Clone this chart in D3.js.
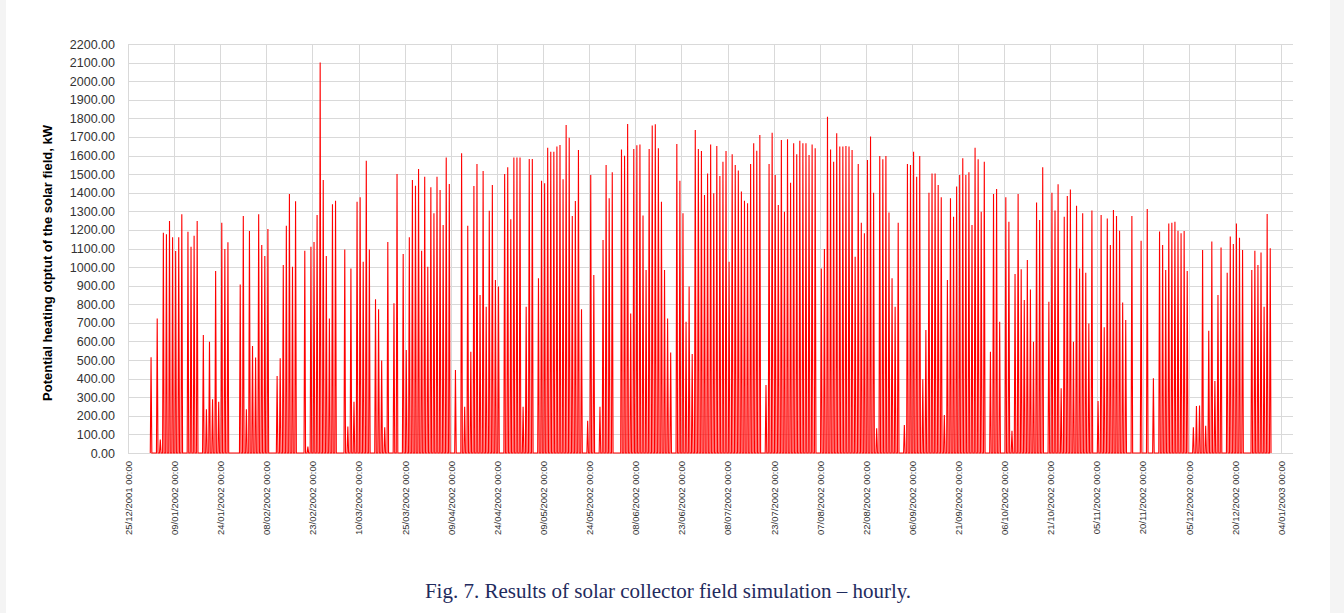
<!DOCTYPE html>
<html>
<head>
<meta charset="utf-8">
<script src="https://cdn.jsdelivr.net/npm/d3@7"></script>
<style>
	body { margin: 0; background: #f4f4f4; }
	svg { display: block; }
</style>
</head>
<body>
<svg id="chart" width="1344" height="613"></svg>
<script>
// daily peak of the hourly output, kW, 1 Jan 2002 .. 31 Dec 2002
var jan = [515,0,724,73,1185,1176,1248,1160,1087,1160,1284,0,1190,1110,1169,1248,0,635,235,599,289,979,276,1239,1097,1133,0,0,0,907,1275];
var feb = [235,1194,575,513,1284,1119,1060,1205,0,0,414,509,1011,1223,1393,1002,1354,0,0,1088,34,1110,1135,1280,2100,1468,1060,723];
var mar = [1338,1357,0,0,1095,142,993,276,1352,1375,1029,1572,1095,0,827,773,497,138,1135,0,805,1501,0,1070,554,1160,1468,1438,1528,1088,1486];
var apr = [1002,1429,1289,1486,1415,1226,1589,1447,0,446,0,1612,249,1223,545,1436,1555,850,1517,787,1303,1442,931,895,0,1501,1537,1257,1590,1590];
var may = [1590,249,787,1581,1581,0,940,1465,1451,1642,1621,1621,1648,1657,1472,1764,1696,1275,1355,1630,773,0,174,1495,957,0,249,1146,1549,1370,1510];
var jun = [0,0,1633,1599,1770,751,1635,1655,1660,1277,984,1635,1761,1768,1639,1352,984,724,540,0,1662,1465,1289,706,895,533,1737,1635,1624,1388];
var jul = [1504,1660,1397,1651,1490,1567,1624,1029,1607,1549,1519,1406,1357,1343,1554,1666,1626,1710,0,366,1554,1723,1495,1334,1684,1298,1688,1454,1666,1607,1679];
var aug = [1666,1666,1603,1660,1639,0,993,1097,1809,1633,1567,1720,1648,1648,1651,1648,1630,1056,1554,1239,1182,1576,1702,1400,133,1598,1580,1598,1293,940,787];
var sep = [1239,0,151,1555,1549,1621,1486,1598,396,662,1400,1504,1504,1442,1375,204,931,1370,1271,1433,1495,1585,1495,1510,1226,1642,1580,1298,1567,0];
var oct = [545,1393,1420,706,0,1375,1244,120,963,1393,988,823,1038,880,599,1347,1253,1537,0,814,1400,1304,1445,348,1271,1382,1418,599,1330,993,1289];
var nov = [970,697,1304,0,280,1280,676,1262,1119,1307,1275,1196,809,715,0,1275,0,0,1142,0,1312,0,402,0,1191,1119,984,1235,1239,1244];
var dec = [1196,1182,1194,979,0,138,253,256,1092,147,658,1137,387,850,1106,0,970,1164,1124,1235,1158,1092,0,0,984,1088,1011,1079,787,1286,1101];

// axis ticks
var yTicks = d3.range(0, 2201, 100);
var xStart = new Date(2001, 11, 25);
var xEnd = new Date(2003, 0, 4);
var firstDay = new Date(2002, 0, 1);

var yTitle = "Potential heating otptut of the solar field, kW";
var caption = "Fig. 7. Results of solar collector field simulation \u2013 hourly.";

var svg = d3.select("#chart");

// white card
svg.append("rect")
	.attr("x", 6).attr("y", 0)
	.attr("width", 1324).attr("height", 613)
	.attr("fill", "#ffffff");

var plotLeft = 128, plotRight = 1293, plotTop = 44, plotBottom = 453;

var x = d3.scaleTime().domain([xStart, xEnd]).range([plotLeft, 1281]);
var y = d3.scaleLinear().domain([0, 2200]).range([plotBottom, plotTop]);

var xTicks = d3.timeDay.range(xStart, d3.timeDay.offset(xEnd, 1))
	.filter(function(d) { return d3.timeDay.count(xStart, d) % 15 === 0; });

// horizontal grid
svg.append("g")
	.selectAll("line")
	.data(yTicks)
	.enter()
	.append("line")
	.attr("x1", plotLeft).attr("x2", plotRight)
	.attr("y1", function(d) { return Math.round(y(d)) + 0.5; })
	.attr("y2", function(d) { return Math.round(y(d)) + 0.5; })
	.attr("stroke", "#d9d9d9");

// vertical grid
svg.append("g")
	.selectAll("line")
	.data(xTicks)
	.enter()
	.append("line")
	.attr("x1", function(d) { return Math.round(x(d)) + 0.5; })
	.attr("x2", function(d) { return Math.round(x(d)) + 0.5; })
	.attr("y1", plotTop).attr("y2", plotBottom)
	.attr("stroke", "#d9d9d9");

// y axis labels
var yAxis = d3.axisLeft(y).tickValues(yTicks).tickSize(0).tickPadding(13)
	.tickFormat(d3.format(".2f"));
svg.append("g")
	.attr("transform", "translate(" + plotLeft + ",0)")
	.call(yAxis)
	.call(function(g) { g.select(".domain").remove(); })
	.selectAll("text")
	.attr("font-family", "Liberation Sans, Arial, sans-serif")
	.attr("font-size", "12.5px")
	.attr("fill", "#333333");

// x axis labels, rotated
var xAxis = d3.axisBottom(x).tickValues(xTicks).tickSize(0)
	.tickFormat(d3.timeFormat("%d/%m/%Y %H:%M"));
svg.append("g")
	.attr("transform", "translate(0," + plotBottom + ")")
	.call(xAxis)
	.call(function(g) { g.select(".domain").remove(); })
	.selectAll("text")
	.attr("font-family", "Liberation Sans, Arial, sans-serif")
	.attr("font-size", "9.5px")
	.attr("fill", "#333333")
	.attr("text-anchor", "end")
	.attr("dy", "0.35em")
	.attr("transform", "translate(0,8) rotate(-90)")
	.attr("x", 0).attr("y", 0);

// hourly spikes: each day rises from the night baseline to its peak at noon
var pts = [];
[jan, feb, mar, apr, may, jun, jul, aug, sep, oct, nov, dec].reduce(function(a, b) { return a.concat(b); }, [])
	.forEach(function(v, i) {
		var day = d3.timeDay.offset(firstDay, i);
		pts.push({ t: d3.timeHour.offset(day, 6), v: 0 });
		pts.push({ t: d3.timeHour.offset(day, 12), v: v });
		pts.push({ t: d3.timeHour.offset(day, 18), v: 0 });
	});

var line = d3.line()
	.x(function(d) { return x(d.t); })
	.y(function(d) { return y(d.v); });

svg.append("path")
	.datum(pts)
	.attr("d", line)
	.attr("fill", "none")
	.attr("stroke", "#ff0000")
	.attr("stroke-width", 1.1)
	.attr("stroke-linejoin", "miter");

// y title
svg.append("text")
	.attr("transform", "translate(52,263) rotate(-90)")
	.attr("text-anchor", "middle")
	.attr("font-family", "Liberation Sans, Arial, sans-serif")
	.attr("font-weight", "bold")
	.attr("font-size", "13px")
	.attr("fill", "#000")
	.text(yTitle);

// caption
svg.append("text")
	.attr("x", 668).attr("y", 598)
	.attr("text-anchor", "middle")
	.attr("font-family", "Liberation Serif, Times New Roman, serif")
	.attr("font-size", "21px")
	.attr("fill", "#1f2b5e")
	.text(caption);
</script>
</body>
</html>
